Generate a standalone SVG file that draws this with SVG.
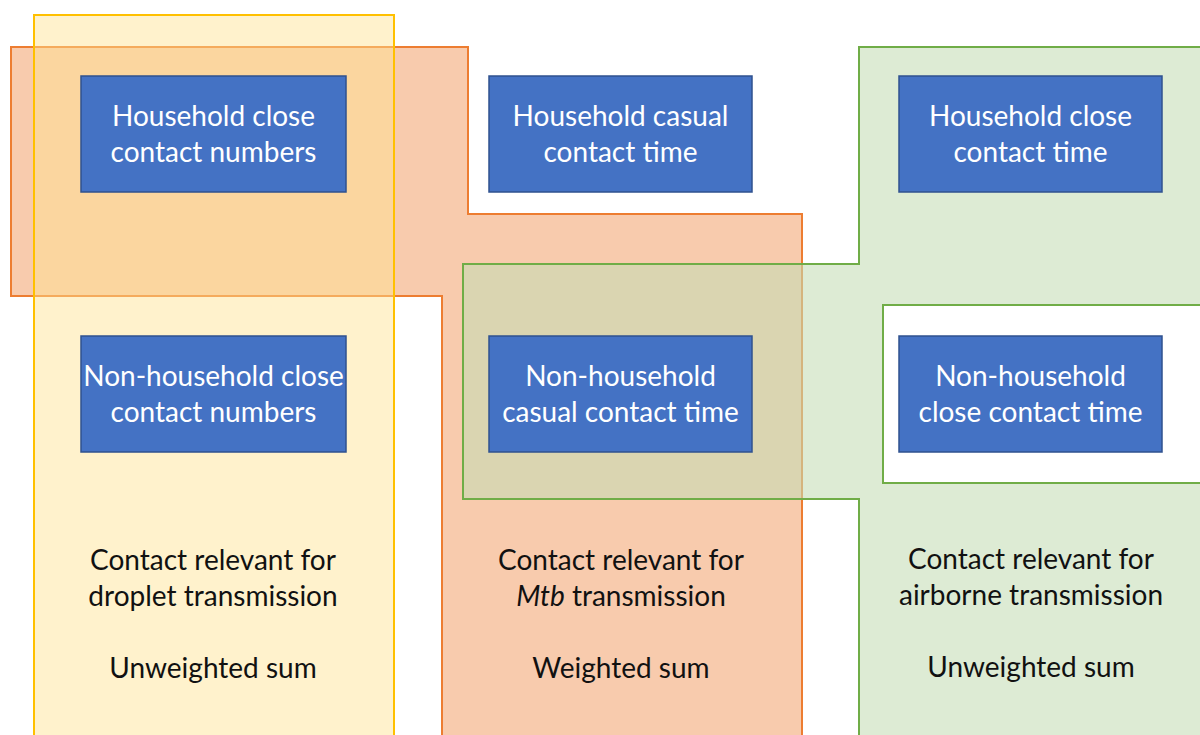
<svg xmlns="http://www.w3.org/2000/svg" width="1200" height="735" viewBox="0 0 1200 735">
<style>
.box{fill:#4472C4;stroke:#2F528F;stroke-width:1.5}
.bt{font-family:Lato,"Liberation Sans",sans-serif;font-size:28px;fill:#FFFFFF;text-anchor:middle}
.lt{font-family:Lato,"Liberation Sans",sans-serif;font-size:28px;fill:#111111;text-anchor:middle}
</style>
<rect width="1200" height="735" fill="#FFFFFF"/>
<g id="region-mtb">
<polygon points="11,47 468,47 468,214 802,214 802,745 442,745 442,296 11,296" fill="#F8CBAD" stroke="#ED7D31" stroke-width="2"/>
</g>
<g id="region-droplet">
<rect x="34" y="15" width="360" height="740" fill="#FFE390" fill-opacity="0.46" stroke="#FFC000" stroke-width="2"/>
</g>
<g id="region-airborne">
<polygon points="859,47 1210,47 1210,305 883,305 883,483 1210,483 1210,745 859,745 859,499 463,499 463,264 859,264" fill="#C4DDB5" fill-opacity="0.58" stroke="#70AD47" stroke-width="2"/>
</g>
<g id="connectors"></g>
<g id="n1"><rect class="box" x="81" y="76" width="265" height="116"/><text class="bt" x="213.5" y="126">Household close</text><text class="bt" x="213.5" y="162">contact numbers</text></g>
<g id="n2"><rect class="box" x="489" y="76" width="263" height="116"/><text class="bt" x="620.5" y="126">Household casual</text><text class="bt" x="620.5" y="162">contact time</text></g>
<g id="n3"><rect class="box" x="899" y="76" width="263" height="116"/><text class="bt" x="1030.5" y="126">Household close</text><text class="bt" x="1030.5" y="162">contact time</text></g>
<g id="n4"><rect class="box" x="81" y="336" width="265" height="116"/><text class="bt" x="213.5" y="386">Non-household close</text><text class="bt" x="213.5" y="422">contact numbers</text></g>
<g id="n5"><rect class="box" x="489" y="336" width="263" height="116"/><text class="bt" x="620.5" y="386">Non-household</text><text class="bt" x="620.5" y="422">casual contact time</text></g>
<g id="n6"><rect class="box" x="899" y="336" width="263" height="116"/><text class="bt" x="1030.5" y="386">Non-household</text><text class="bt" x="1030.5" y="422">close contact time</text></g>
<g id="label-droplet"><text class="lt" x="213" y="570">Contact relevant for</text><text class="lt" x="213" y="606">droplet transmission</text><text class="lt" x="213" y="678">Unweighted sum</text></g>
<g id="label-mtb"><text class="lt" x="621" y="570">Contact relevant for</text><text class="lt" x="621" y="606"><tspan font-style="italic">Mtb</tspan> transmission</text><text class="lt" x="621" y="678">Weighted sum</text></g>
<g id="label-airborne"><text class="lt" x="1031" y="569">Contact relevant for</text><text class="lt" x="1031" y="605">airborne transmission</text><text class="lt" x="1031" y="677">Unweighted sum</text></g>
</svg>
